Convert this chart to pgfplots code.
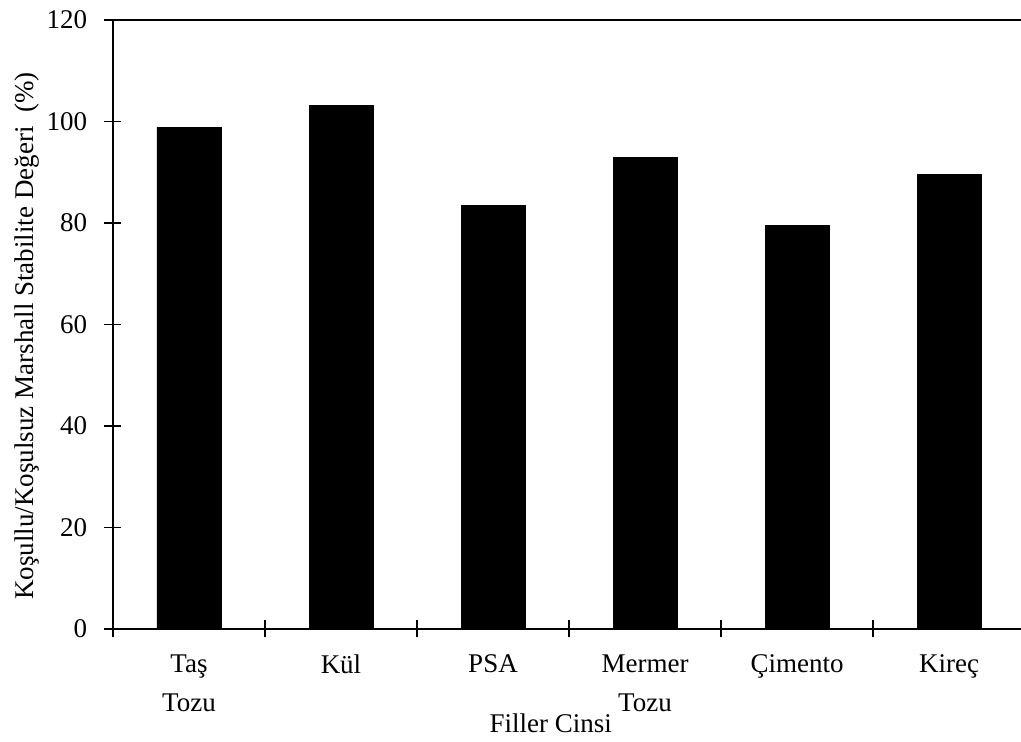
\documentclass[border=0pt]{standalone}
\usepackage{fontspec}
\setmainfont{Liberation Serif}
\usepackage{pgfplots}
\pgfplotsset{compat=1.18}
\begin{document}
\fontsize{13.5}{16.5}\selectfont
\begin{tikzpicture}
\begin{axis}[
  scale only axis, width=456pt, height=304.5pt,
  xmin=-0.5, xmax=5.5, ymin=0, ymax=120,
  ytick={0,20,...,120},
  xtick={0,...,5},
  xticklabels={{Taş\\[3pt]Tozu},Kül,PSA,{Mermer\\[3pt]Tozu},Çimento,Kireç},
  major x tick style={draw=none},
  minor xtick={-0.5,0.5,...,4.5},
  xtick pos=bottom, ytick pos=left,
  major tick length=8.5pt, minor tick length=8.5pt,
  tick align=center,
  tick style={black, line width=0.7pt},
  axis line style={line width=0.7pt},
  /pgf/number format/assume math mode=true,
  tick label style={font=\fontsize{13.5}{16.5}\selectfont},
  x tick label style={align=center, anchor=north, yshift=-4pt},
  y tick label style={xshift=-4pt},
  xlabel={Filler Cinsi},
  xlabel style={font=\fontsize{13.5}{16.5}\selectfont, at={(axis description cs:0.48,0)}, anchor=base, yshift=-52pt},
  ylabel={Koşullu/Koşulsuz Marshall Stabilite Değeri~~(\%)},
  ylabel style={font=\fontsize{13.5}{16.5}\selectfont, at={(axis description cs:0,0.481)}, anchor=center, yshift=43pt},
]
\addplot[ybar, fill=black, draw=black, bar width=32pt] coordinates {
  (0,98.9) (1,103.2) (2,83.5) (3,93.0) (4,79.6) (5,89.5)
};
\end{axis}
\pgfresetboundingbox
\useasboundingbox (current axis.south west) ++(-56.5pt,-56.5pt) rectangle ++(510.5pt,371pt);
\end{tikzpicture}
\end{document}
